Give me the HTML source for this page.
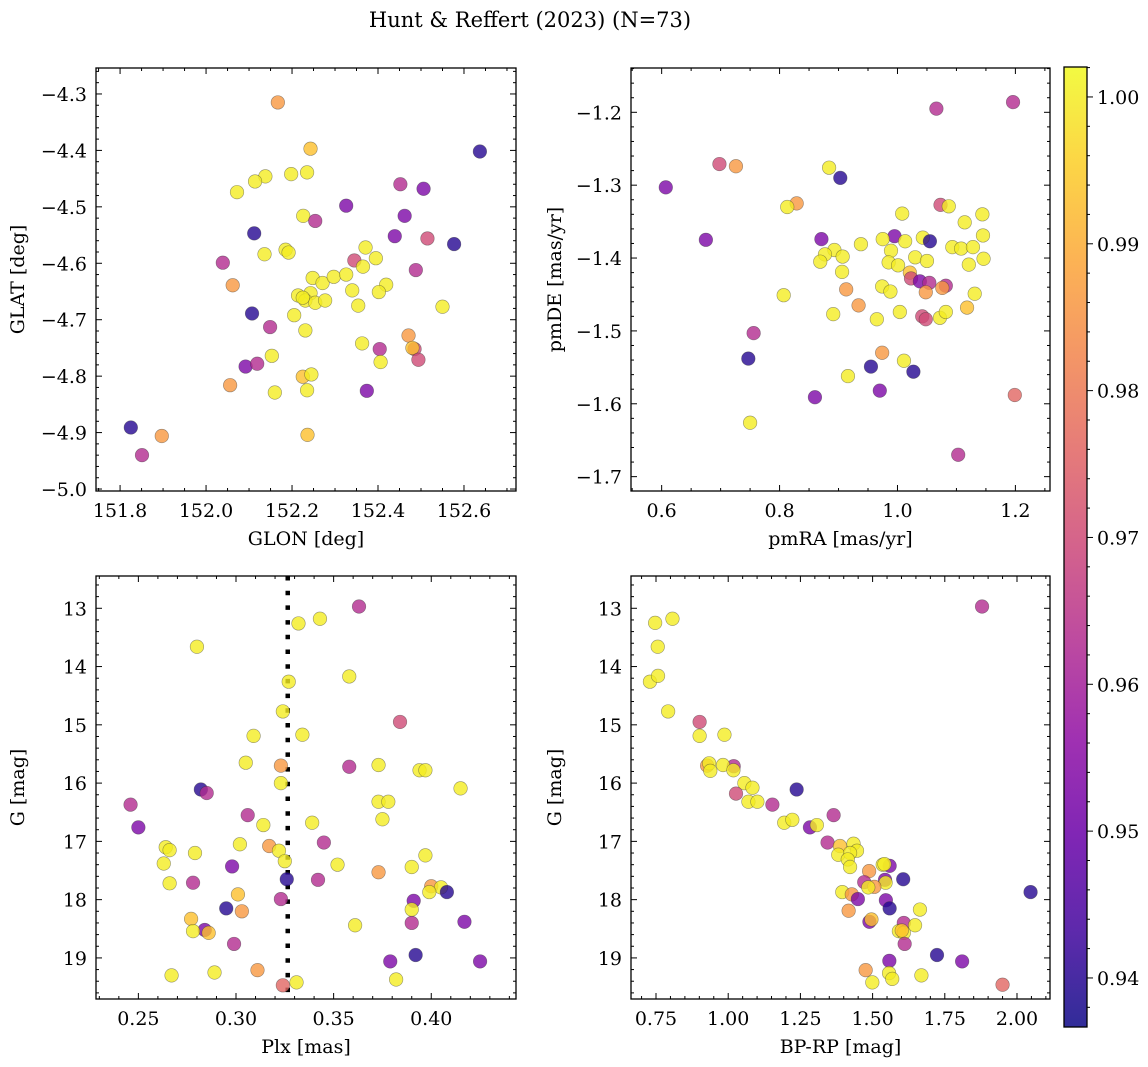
<!DOCTYPE html>
<html><head><meta charset="utf-8"><style>
html,body{margin:0;padding:0;background:#fff;}
svg{display:block;font-family:"DejaVu Serif","Liberation Serif",serif;}
</style></head><body>
<svg id="fig" width="1148" height="1067" viewBox="0 0 1148 1067" xmlns="http://www.w3.org/2000/svg">
<defs>
<linearGradient id="plasma" x1="0" y1="1" x2="0" y2="0">
<stop offset="0" stop-color="#0d0887"/><stop offset="0.1" stop-color="#41049d"/><stop offset="0.2" stop-color="#6a00a8"/><stop offset="0.3" stop-color="#8f0da4"/><stop offset="0.4" stop-color="#b12a90"/><stop offset="0.5" stop-color="#cc4778"/><stop offset="0.6" stop-color="#e16462"/><stop offset="0.7" stop-color="#f2844b"/><stop offset="0.8" stop-color="#fca636"/><stop offset="0.9" stop-color="#fcce25"/><stop offset="1" stop-color="#f0f921"/>
</linearGradient>
</defs>
<text x="530" y="27" font-size="21" text-anchor="middle">Hunt &amp; Reffert (2023) (N=73)</text>
</svg>
<script>
// membership probability codes
const N=0.9395,V=0.953,M=0.963,P=0.970,S=0.976,O=0.986,G=0.993,Y=1.0;
// Panel 1: GLON / GLAT
const p1x=[152.167,152.243,152.637,152.452,152.506,152.138,152.114,152.198,152.235,152.072,152.326,152.462,152.226,152.254,152.112,152.439,152.515,152.577,152.136,152.185,152.192,152.371,152.039,152.345,152.395,152.365,152.488,152.062,152.248,152.271,152.297,152.326,152.340,152.419,152.402,152.214,152.243,152.231,152.254,152.277,152.225,152.354,152.550,152.107,152.205,152.149,152.231,152.471,152.363,152.404,152.485,152.480,152.494,152.406,152.153,152.092,152.119,152.225,152.245,152.056,152.160,152.235,152.374,151.825,151.897,151.851,152.236];
const p1y=[-4.315,-4.397,-4.402,-4.460,-4.468,-4.446,-4.455,-4.442,-4.439,-4.474,-4.498,-4.516,-4.516,-4.525,-4.547,-4.552,-4.556,-4.566,-4.584,-4.576,-4.581,-4.572,-4.599,-4.595,-4.591,-4.606,-4.612,-4.639,-4.626,-4.635,-4.624,-4.620,-4.648,-4.638,-4.651,-4.657,-4.653,-4.666,-4.670,-4.666,-4.661,-4.675,-4.677,-4.689,-4.692,-4.713,-4.719,-4.728,-4.742,-4.752,-4.752,-4.750,-4.771,-4.775,-4.764,-4.783,-4.778,-4.801,-4.797,-4.816,-4.829,-4.825,-4.826,-4.891,-4.906,-4.940,-4.904];
const p1c=[O,G,N,M,V,Y,Y,Y,Y,Y,V,V,Y,M,N,V,P,N,Y,Y,Y,Y,M,P,Y,Y,M,O,Y,Y,Y,Y,Y,Y,Y,Y,Y,Y,Y,Y,Y,Y,Y,N,Y,M,Y,O,Y,M,P,G,P,Y,Y,V,M,G,Y,O,Y,Y,V,N,O,M,G];
// Panel 2: pmRA / pmDE
const p2x=[1.066,1.196,0.698,0.726,0.607,0.884,0.903,0.829,0.813,1.073,1.087,1.008,1.144,1.114,1.145,0.675,0.871,0.995,0.975,1.013,1.043,1.055,0.938,0.893,0.877,0.907,0.869,0.989,1.093,1.108,1.128,1.030,1.050,0.985,1.001,1.146,1.121,0.906,1.021,1.023,1.038,1.054,1.082,1.076,1.048,0.913,0.974,0.988,0.807,0.934,1.131,1.118,0.891,0.965,1.004,1.042,1.048,1.072,1.082,0.756,0.747,0.974,1.011,0.955,1.027,0.916,0.970,0.860,1.199,0.750,1.103];
const p2y=[-1.195,-1.186,-1.271,-1.274,-1.303,-1.276,-1.290,-1.325,-1.330,-1.327,-1.329,-1.339,-1.340,-1.351,-1.369,-1.375,-1.374,-1.370,-1.374,-1.377,-1.372,-1.377,-1.381,-1.389,-1.395,-1.398,-1.405,-1.390,-1.385,-1.387,-1.385,-1.399,-1.404,-1.406,-1.410,-1.401,-1.409,-1.419,-1.420,-1.428,-1.432,-1.434,-1.438,-1.441,-1.447,-1.443,-1.439,-1.446,-1.451,-1.465,-1.449,-1.468,-1.477,-1.484,-1.474,-1.480,-1.484,-1.482,-1.474,-1.503,-1.538,-1.530,-1.541,-1.549,-1.556,-1.562,-1.582,-1.591,-1.588,-1.626,-1.670];
const p2c=[M,M,P,O,V,Y,N,O,Y,P,Y,Y,Y,Y,Y,V,V,V,Y,Y,Y,N,Y,Y,Y,Y,Y,Y,Y,Y,Y,Y,Y,Y,Y,Y,Y,Y,G,P,V,M,M,O,O,O,Y,Y,Y,O,Y,G,Y,Y,Y,P,P,Y,Y,M,N,O,Y,N,N,Y,V,V,S,Y,M];
// Panel 3: Plx / G
const p3x=[0.363,0.332,0.343,0.280,0.358,0.327,0.324,0.384,0.309,0.334,0.305,0.323,0.358,0.373,0.394,0.397,0.323,0.282,0.285,0.415,0.246,0.306,0.250,0.314,0.339,0.373,0.378,0.375,0.345,0.264,0.266,0.279,0.302,0.317,0.322,0.325,0.263,0.298,0.352,0.397,0.390,0.326,0.342,0.373,0.266,0.278,0.400,0.405,0.408,0.399,0.301,0.323,0.391,0.295,0.303,0.390,0.277,0.284,0.278,0.286,0.390,0.417,0.361,0.299,0.379,0.392,0.425,0.267,0.289,0.311,0.324,0.331,0.382];
const p3y=[12.97,13.26,13.18,13.66,14.17,14.26,14.77,14.95,15.19,15.17,15.65,15.70,15.72,15.69,15.78,15.78,16.00,16.11,16.17,16.09,16.37,16.55,16.76,16.72,16.68,16.32,16.32,16.62,17.02,17.10,17.15,17.20,17.05,17.08,17.16,17.34,17.38,17.43,17.40,17.24,17.44,17.65,17.66,17.53,17.72,17.71,17.77,17.79,17.87,17.87,17.91,17.99,18.02,18.15,18.20,18.17,18.33,18.52,18.54,18.57,18.40,18.38,18.44,18.76,19.06,18.95,19.06,19.30,19.25,19.21,19.47,19.42,19.37];
const p3c=[M,Y,Y,Y,Y,Y,Y,P,Y,Y,Y,O,M,Y,Y,Y,Y,N,M,Y,M,M,V,Y,Y,Y,Y,Y,M,Y,Y,Y,Y,O,Y,Y,Y,V,Y,Y,Y,N,M,O,Y,M,O,Y,N,Y,G,M,V,N,O,Y,G,V,Y,G,M,V,Y,M,V,N,V,Y,Y,O,S,Y,Y];
const plxRef=[0.3265];
// Panel 4: BP-RP / G
const p4x=[1.879,0.747,0.807,0.756,0.729,0.757,0.792,0.901,0.901,0.987,0.927,0.934,0.938,1.019,0.982,1.018,1.056,1.084,1.027,1.237,1.070,1.101,1.153,1.365,1.194,1.222,1.283,1.307,1.344,1.387,1.381,1.434,1.446,1.422,1.414,1.422,1.559,1.535,1.541,1.488,1.606,1.471,1.543,1.545,1.506,1.485,2.047,1.395,1.428,1.449,1.546,1.559,1.664,1.417,1.489,1.496,1.608,1.647,1.591,1.608,1.601,1.611,1.558,1.723,1.810,1.476,1.557,1.669,1.568,1.499,1.950];
const p4y=[12.97,13.25,13.18,13.66,14.26,14.16,14.77,14.95,15.19,15.17,15.70,15.66,15.79,15.71,15.69,15.78,16.00,16.08,16.18,16.11,16.32,16.32,16.37,16.55,16.68,16.63,16.76,16.72,17.02,17.08,17.23,17.04,17.16,17.20,17.31,17.44,17.42,17.40,17.39,17.51,17.65,17.70,17.66,17.71,17.78,17.79,17.87,17.87,17.91,17.99,18.01,18.15,18.17,18.19,18.38,18.34,18.40,18.44,18.54,18.57,18.53,18.76,19.05,18.95,19.06,19.21,19.26,19.30,19.36,19.42,19.46];
const p4c=[M,Y,Y,Y,Y,Y,Y,P,Y,Y,O,Y,Y,M,Y,Y,Y,Y,P,N,Y,Y,M,M,Y,Y,V,Y,M,G,Y,Y,Y,Y,Y,Y,V,Y,Y,O,N,M,V,Y,O,Y,N,Y,O,V,V,N,Y,O,V,G,M,Y,Y,Y,G,M,V,N,V,O,Y,Y,Y,Y,S];
// colorbar
const cbTicks=[0.94,0.95,0.96,0.97,0.98,0.99,1.00];
const VMIN=0.93666, VMAX=1.00204;

const NS="http://www.w3.org/2000/svg";
const svg=document.getElementById('fig');
function mk(tag,attrs,parent){const e=document.createElementNS(NS,tag);for(const k in attrs)e.setAttribute(k,attrs[k]);(parent||svg).appendChild(e);return e;}
const stops=[[13,8,135],[65,4,157],[106,0,168],[143,13,164],[177,42,144],[204,71,120],[225,100,98],[242,132,75],[252,166,54],[252,206,37],[240,249,33]];
function plasma(v){let t=(v-VMIN)/(VMAX-VMIN);t=Math.max(0,Math.min(1,t))*10;const i=Math.min(9,Math.floor(t)),f=t-i;const a=stops[i],b=stops[i+1];return 'rgb('+a.map((c,k)=>Math.round(c+(b[k]-c)*f)).join(',')+')';}
function fmt(v,d){return v.toFixed(d).replace('-','\u2212');}
const FS=19;

function panel(cfg){
  const {name,x0,y0,x1,y1,xmin,xmax,ymin,ymax,inv}=cfg;
  const g=mk('g',{});
  
  
  const sx=v=>x0+(v-xmin)/(xmax-xmin)*(x1-x0);
  const sy=inv?(v=>y0+(v-ymin)/(ymax-ymin)*(y1-y0)):(v=>y1-(v-ymin)/(ymax-ymin)*(y1-y0));
  const eps=1e-9;
  for(let v=Math.ceil(xmin/cfg.xminor-eps)*cfg.xminor;v<=xmax+eps;v+=cfg.xminor){
    const X=sx(v);const major=Math.abs(v/cfg.xmajor-Math.round(v/cfg.xmajor))<1e-6;const L=major?6:3;
    mk('line',{x1:X,x2:X,y1:y1,y2:y1-L,stroke:'#000','stroke-width':1},g);
    mk('line',{x1:X,x2:X,y1:y0,y2:y0+L,stroke:'#000','stroke-width':1},g);
    if(major){const t=mk('text',{x:X,y:y1+26,'font-size':FS,'text-anchor':'middle'},g);t.textContent=fmt(v,cfg.xd);
      }
  }
  for(let v=Math.ceil(ymin/cfg.yminor-eps)*cfg.yminor;v<=ymax+eps;v+=cfg.yminor){
    const Yp=sy(v);const major=Math.abs(v/cfg.ymajor-Math.round(v/cfg.ymajor))<1e-6;const L=major?6:3;
    mk('line',{x1:x0,x2:x0+L,y1:Yp,y2:Yp,stroke:'#000','stroke-width':1},g);
    mk('line',{x1:x1,x2:x1-L,y1:Yp,y2:Yp,stroke:'#000','stroke-width':1},g);
    if(major){const t=mk('text',{x:x0-9,y:Yp+7,'font-size':FS,'text-anchor':'end'},g);t.textContent=fmt(v,cfg.yd);
      }
  }
  if(cfg.vline!==undefined){
    const l=mk('line',{x1:sx(cfg.vline),x2:sx(cfg.vline),y1:y0,y2:y1,stroke:'#000','stroke-width':4.5,'stroke-dasharray':'4.5,10.2'},g);
    
    
  }
  const xs=cfg.xs,ys=cfg.ys,cs=cfg.cs;
  for(let i=0;i<xs.length;i++){
    const c=mk('circle',{cx:sx(xs[i]),cy:sy(ys[i]),r:6.8,fill:plasma(cs[i]),'fill-opacity':0.8,stroke:'#333','stroke-opacity':0.5,'stroke-width':0.6},g);
    
    
  }
  const fr=mk('rect',{x:x0,y:y0,width:x1-x0,height:y1-y0,fill:'none',stroke:'#000','stroke-width':1.3},g);
  
  
  const xl=mk('text',{x:(x0+x1)/2,y:y1+54,'font-size':FS,'text-anchor':'middle'},g);xl.textContent=cfg.xlab;
  
  
  const yc=(y0+y1)/2,yx=cfg.ylx;
  const yl=mk('text',{x:yx,y:yc,'font-size':FS,'text-anchor':'middle',transform:'rotate(-90 '+yx+' '+yc+')'},g);yl.textContent=cfg.ylab;
  
  
}

panel({name:'glon-glat-panel',x0:96,y0:68,x1:516,y1:491,xmin:151.744,xmax:152.721,ymin:-5.0035,ymax:-4.254,xmajor:0.2,xminor:0.05,ymajor:0.1,yminor:0.02,xd:1,yd:1,xs:p1x,ys:p1y,cs:p1c,xlab:'GLON [deg]',ylab:'GLAT [deg]',ylx:24});
panel({name:'pm-panel',x0:631,y0:68,x1:1050,y1:491,xmin:0.548,xmax:1.2587,ymin:-1.7197,ymax:-1.1392,xmajor:0.2,xminor:0.05,ymajor:0.1,yminor:0.02,xd:1,yd:1,xs:p2x,ys:p2y,cs:p2c,xlab:'pmRA [mas/yr]',ylab:'pmDE [mas/yr]',ylx:561});
panel({name:'plx-g-panel',x0:96,y0:576,x1:516,y1:999,xmin:0.2283,xmax:0.4434,ymin:12.446,ymax:19.705,inv:true,xmajor:0.05,xminor:0.01,ymajor:1,yminor:0.2,xd:2,yd:0,xs:p3x,ys:p3y,cs:p3c,xlab:'Plx [mas]',ylab:'G [mag]',ylx:24,vline:plxRef[0]});
panel({name:'cmd-panel',x0:631,y0:576,x1:1050,y1:999,xmin:0.6634,xmax:2.1143,ymin:12.446,ymax:19.705,inv:true,xmajor:0.25,xminor:0.05,ymajor:1,yminor:0.2,xd:2,yd:0,xs:p4x,ys:p4y,cs:p4c,xlab:'BP-RP [mag]',ylab:'G [mag]',ylx:561});

// colorbar
const cb=mk('g',{});


const cx0=1064,cx1=1087,cy0=67,cy1=1027;
mk('rect',{x:cx0,y:cy0,width:cx1-cx0,height:cy1-cy0,fill:'url(#plasma)','fill-opacity':0.85},cb);
mk('rect',{x:cx0,y:cy0,width:cx1-cx0,height:cy1-cy0,fill:'none',stroke:'#000','stroke-width':1.3},cb);
const cy=v=>cy1-(v-VMIN)/(VMAX-VMIN)*(cy1-cy0);
for(let k=Math.ceil(VMIN/0.002);k*0.002<=VMAX;k++){
  const v=k*0.002,Yp=cy(v),major=(k%5===0);
  mk('line',{x1:cx1,x2:cx1+(major?6:3),y1:Yp,y2:Yp,stroke:'#000','stroke-width':1},cb);
}
cbTicks.forEach(v=>{const t=mk('text',{x:cx1+10,y:cy(v)+7,'font-size':FS},cb);t.textContent=v.toFixed(2);
  
  });
</script>
</body></html>
